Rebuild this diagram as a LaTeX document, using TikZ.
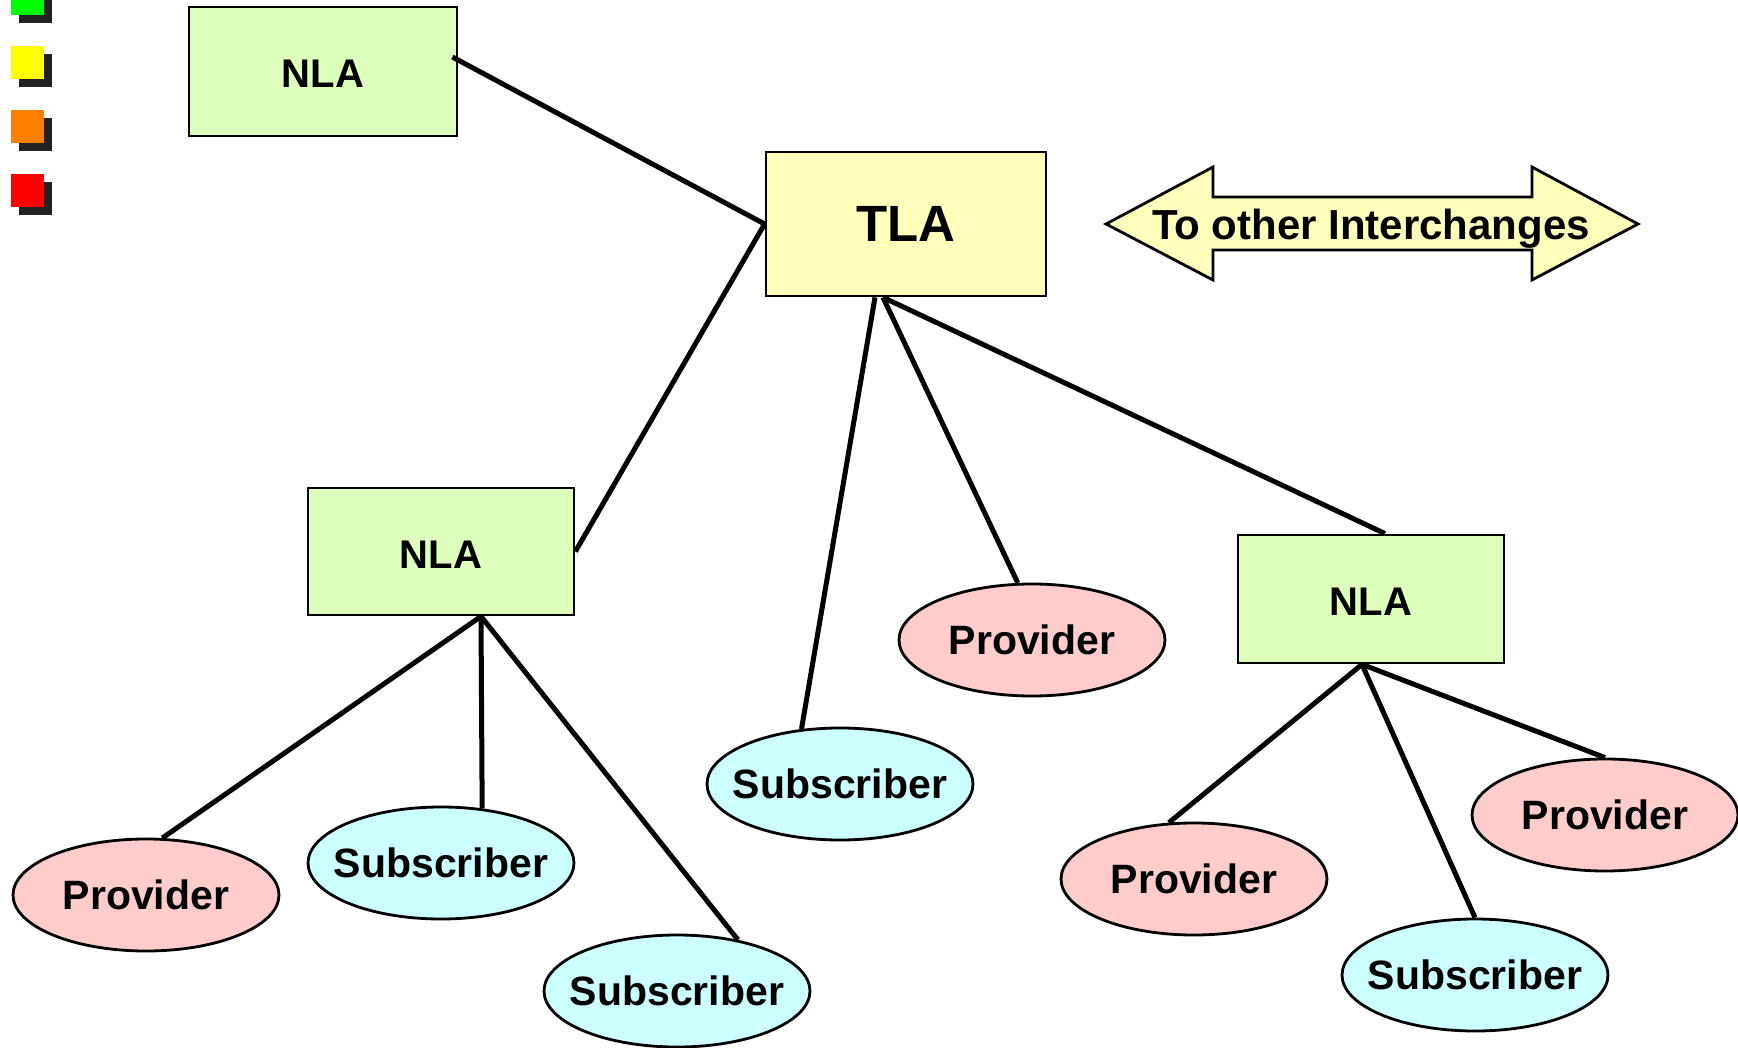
\documentclass[tikz,border=0pt]{standalone}
\usepackage{fontspec}
\setmainfont{Liberation Sans}
\usetikzlibrary{shapes.geometric}
\definecolor{nlafill}{RGB}{221,255,187}
\definecolor{tlafill}{RGB}{255,255,187}
\definecolor{provfill}{RGB}{255,204,204}
\definecolor{subfill}{RGB}{204,255,255}
\definecolor{shadowc}{RGB}{34,34,34}
\definecolor{bgreen}{RGB}{0,255,0}
\definecolor{byellow}{RGB}{255,255,0}
\definecolor{borange}{RGB}{255,128,0}
\definecolor{bred}{RGB}{255,0,0}
\tikzset{
  nlabox/.style={draw=black, line width=2.8pt, fill=nlafill, rectangle, inner sep=0pt,
    text height=33pt, text depth=0pt,
    font=\fontsize{40}{48}\selectfont\bfseries},
  tlabox/.style={draw=black, line width=2.8pt, fill=tlafill, rectangle, inner sep=0pt,
    minimum width=280, minimum height=144, font=\fontsize{51}{60}\selectfont\bfseries},
  ellbase/.style={draw=black, line width=2.8pt, ellipse, inner xsep=-45pt, inner ysep=0pt,
    minimum width=266, minimum height=112, font=\fontsize{41}{48}\selectfont\bfseries},
  provell/.style={ellbase, fill=provfill},
  subell/.style={ellbase, fill=subfill},
  conn/.style={line width=5pt, black},
}
\begin{document}
\begin{tikzpicture}[x=1pt, y=-1pt]
\useasboundingbox (0,0) rectangle (1738,1048);
\fill[white] (0,0) rectangle (1738,1048);

% bullets
\foreach \yy/\cc in {-18/bgreen, 46/byellow, 110/borange, 174/bred}{
  \fill[shadowc] (19,\yy+8) rectangle (52,\yy+41);
  \fill[\cc] (11,\yy) rectangle (44,\yy+33);
}

% boxes
\node[nlabox, minimum width=268, minimum height=129] (nlaT) at (323,71.5) {NLA};
\node[tlabox] (tla) at (906,224) {TLA};
\node[nlabox, minimum width=266, minimum height=127] (nlaL) at (441,551.5) {NLA};
\node[nlabox, minimum width=266, minimum height=128] (nlaR) at (1371,599) {NLA};

% ellipses
\node[provell] (provM) at (1032,640) {Provider};
\node[subell] (subM) at (840,784) {Subscriber};
\node[provell] (provL) at (146,895) {Provider};
\node[subell] (subL1) at (441,863) {Subscriber};
\node[subell] (subL2) at (677,991) {Subscriber};
\node[provell] (provR1) at (1194,879) {Provider};
\node[subell] (subR) at (1475,975) {Subscriber};
\node[provell] (provR2) at (1605,815) {Provider};

% arrow
\filldraw[fill=tlafill, draw=black, line width=2.8pt, line join=miter]
  (1106,224) -- (1213,167) -- (1213,197) -- (1532,197) -- (1532,167) -- (1638,224)
  -- (1532,280) -- (1532,250) -- (1213,250) -- (1213,280) -- cycle;
\node[font=\fontsize{42}{50}\selectfont\bfseries, inner sep=0pt] (arrowtxt) at (1371,229) {To other Interchanges};

% connector points
\coordinate (nlaTout) at ([shift={(-6,-14.5)}]nlaT.east);
\coordinate (tlaS1) at ([xshift=-31]tla.south);
\coordinate (tlaS2) at ([xshift=-23]tla.south);
\coordinate (nlaRin) at ([xshift=14]nlaR.north);
\coordinate (nlaLout) at ([xshift=40]nlaL.south);
\coordinate (nlaRout) at ([xshift=-9]nlaR.south);

% connectors
\draw[conn] (nlaTout) -- (tla.west);
\draw[conn] (tla.west) -- (nlaL.east);
\draw[conn] (tlaS1) -- (subM.125);
\draw[conn] (tlaS2) -- (provM.104);
\draw[conn] (tlaS2) -- (nlaRin);
\draw[conn] (nlaLout) -- (provL.74);
\draw[conn] (nlaLout) -- (subL1.53);
\draw[conn] (nlaLout) -- (subL2.40);
\draw[conn] (nlaRout) -- (provR1.114);
\draw[conn] (nlaRout) -- (subR.north);
\draw[conn] (nlaRout) -- (provR2.north);
\end{tikzpicture}
\end{document}
